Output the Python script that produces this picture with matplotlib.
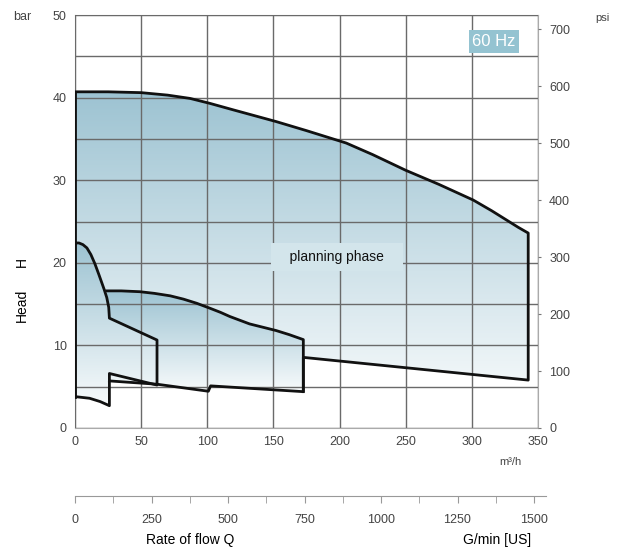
import matplotlib
matplotlib.use('Agg')
import matplotlib.pyplot as plt
import numpy as np
from matplotlib.patches import Polygon
from matplotlib.colors import LinearSegmentedColormap

plt.rcParams['font.family'] = ['Liberation Sans', 'DejaVu Sans']

# planning phase envelope (m3/h, bar)
big_top_q = [0, 25, 50, 70, 87, 102, 120, 152, 175, 205, 225, 250, 275, 301, 315, 326, 335, 342.6]
big_top_h = [40.7, 40.7, 40.6, 40.3, 39.9, 39.3, 38.5, 37.1, 36.0, 34.5, 33.1, 31.2, 29.5, 27.6, 26.3, 25.2, 24.3, 23.6]
big_bot_q = [342.6, 172.6]
big_bot_h = [5.8, 8.55]

# middle field
b_top_q = [24, 35, 49, 60, 72, 82, 92, 102, 110, 117, 132, 142, 152, 162, 172.6]
b_top_h = [16.6, 16.6, 16.5, 16.3, 16.0, 15.6, 15.1, 14.5, 14.0, 13.5, 12.6, 12.2, 11.8, 11.3, 10.7]
b_bot_q = [172.6, 102.5, 100.8, 62, 26]
b_bot_h = [4.4, 5.1, 4.45, 5.3, 5.7]

# small field
a_top_q = [0, 3, 6, 9, 12, 15, 18, 20, 22, 24, 25.5, 26]
a_top_h = [22.4, 22.4, 22.2, 21.8, 21.0, 19.9, 18.6, 17.7, 16.8, 15.8, 14.6, 13.3]
a_bot_q = [62, 62, 26, 26, 19, 11, 0]
a_bot_h = [10.65, 5.2, 6.6, 2.7, 3.2, 3.6, 3.8]

x_ticks = [0, 50, 100, 150, 200, 250, 300, 350]
bar_ticks = [0, 10, 20, 30, 40, 50]
psi_ticks = [0, 100, 200, 300, 400, 500, 600, 700]
gpm_ticks = [0, 250, 500, 750, 1000, 1250, 1500]

top_c = '#9dc3d2'
bot_c = '#f8fbfc'

fig = plt.figure(figsize=(6.21, 5.53), dpi=100)
ax = fig.add_axes([75/621, 1-428/553, 463/621, 413/553])


def grad_fill(q, h, z):
    poly = Polygon(np.column_stack([q, h]), closed=True, facecolor='none', edgecolor='none')
    ax.add_patch(poly)
    cmap = LinearSegmentedColormap.from_list('g', [bot_c, top_c])
    grad = np.linspace(0, 1, 256).reshape(-1, 1)
    im = ax.imshow(grad, cmap=cmap, origin='lower', aspect='auto', zorder=z,
                   extent=[min(q), max(q), min(h), max(h)], interpolation='bilinear')
    im.set_clip_path(poly)


# polygons
a_q = a_top_q + a_bot_q
a_h = a_top_h + a_bot_h
b_q = b_top_q + b_bot_q + [26]
b_h = b_top_h + b_bot_h + [13.3]
big_q = big_top_q + big_bot_q + [172.6] + b_bot_q[1:] + [26, 19, 11, 0]
big_h = big_top_h + big_bot_h + [4.4] + b_bot_h[1:] + [2.7, 3.2, 3.6, 3.8]

grad_fill(big_q, big_h, 1)
grad_fill(b_q, b_h, 1.1)
grad_fill(a_q, a_h, 1.2)

lw = 2.0
oc = '#111111'
ax.plot(big_top_q + big_bot_q + [172.6], big_top_h + big_bot_h + [4.4], color=oc, lw=lw,
        zorder=3, solid_joinstyle='round')
ax.plot([0, 0], [3.8, 40.7], color=oc, lw=lw, zorder=3)
ax.plot(b_top_q + b_bot_q, b_top_h + b_bot_h, color=oc, lw=lw, zorder=3, solid_joinstyle='round')
ax.plot(a_q + [0], a_h + [22.4], color=oc, lw=lw, zorder=3, solid_joinstyle='round')

ax.set_xlim(0, 350)
ax.set_ylim(0, 50)
ax.set_xticks(x_ticks)
ax.set_yticks(bar_ticks)
ax.set_yticks(np.arange(5, 50, 10), minor=True)
ax.grid(True, which='both', color='#6a6a6a', lw=1.0)
ax.set_axisbelow(False)
ax.tick_params(axis='both', which='both', length=0, labelsize=9, labelcolor='#444444')
ax.tick_params(axis='y', pad=6)
ax.tick_params(axis='x', pad=6)
for s in ax.spines.values():
    s.set_color('#aaaaaa')

ax2 = ax.twinx()
ax2.set_ylim(0, 50 * 14.5038)
ax2.set_yticks(psi_ticks)
ax2.tick_params(axis='y', length=2, pad=6, labelsize=9, labelcolor='#444444', color='#777777')
for s in ax2.spines.values():
    s.set_visible(False)

ax.text(198, 20.7, '   planning phase   ', ha='center', va='center', fontsize=10, color='#111111',
        zorder=4, bbox=dict(boxstyle='square,pad=0.5', fc='#d3e5eb', ec='none'))
ax.text(0.905, 0.936, '60 Hz', transform=ax.transAxes, ha='center', va='center', fontsize=12,
        color='white', zorder=5, bbox=dict(boxstyle='square,pad=0.22', fc='#94c3d1', ec='none'))

# secondary flow axis in US gallons per minute
ax3 = fig.add_axes([75/621, 1-496/553, 471/621, 0.001])
ax3.set_xlim(0, 1500 * 471 / 459)
ax3.set_xticks(gpm_ticks)
ax3.set_xticks(np.arange(125, 1500, 250), minor=True)
ax3.set_yticks([])
for k in ['top', 'left', 'right']:
    ax3.spines[k].set_visible(False)
ax3.spines['bottom'].set_color('#999999')
ax3.tick_params(axis='x', which='both', length=5, color='#999999', labelsize=9,
                labelcolor='#444444', pad=8)
ax3.patch.set_visible(False)

fig.text(22/621, 1-17/553, 'bar', fontsize=9, color='#444444', ha='center', va='center')
fig.text(602/621, 1-18/553, 'psi', fontsize=8, color='#444444', ha='center', va='center')
fig.text(510/621, 1-462/553, 'm³/h', fontsize=8, color='#444444', ha='center', va='center')
fig.text(22/621, 1-262/553, 'H', fontsize=10, rotation=90, ha='center', va='center')
fig.text(22/621, 1-305/553, 'Head', fontsize=10, rotation=90, ha='center', va='center')
fig.text(190/621, 1-540/553, 'Rate of flow Q', fontsize=10, ha='center', va='center')
fig.text(531/621, 1-540/553, 'G/min [US]', fontsize=10, ha='right', va='center')

fig.savefig('out.png', dpi=100)
